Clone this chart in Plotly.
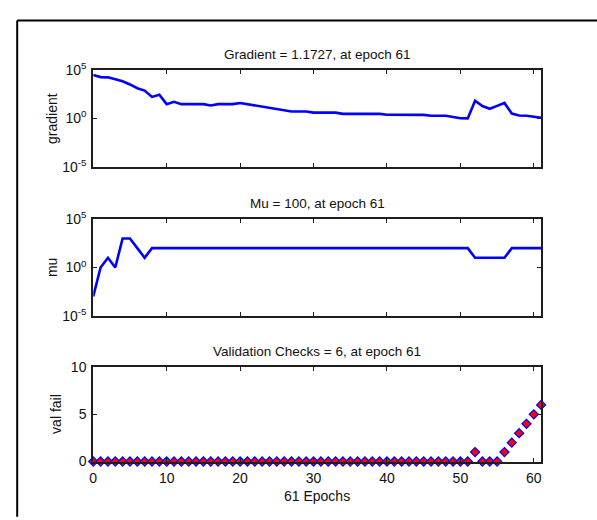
import plotly.graph_objects as go

# ---------------- data ----------------
epochs = list(range(62))

gradient = [32000, 19000, 18000, 10700, 7100, 3300, 1350, 760, 170, 290,
            30, 52, 30, 30, 30, 30, 22, 30, 30, 30,
            40, 29.5, 21, 16, 11.5, 8.9, 6.9, 5.2, 5.2, 5.2,
            4.0, 4.0, 4.0, 4.0, 2.95, 2.95, 2.95, 2.95, 2.95, 2.95,
            2.4, 2.4, 2.4, 2.4, 2.4, 2.3, 1.86, 1.86, 1.86, 1.41,
            1.05, 1.0, 68, 19, 10, 20, 40, 3.2, 2.0, 1.86,
            1.48, 1.1727]

mu = [0.001, 1, 10, 1, 1000, 1000, 100, 10] + [100] * 44 + [10] * 5 + [100] * 5

val_fail = [0] * 52 + [1, 0, 0, 0, 1, 2, 3, 4, 5, 6]

titles = ["Gradient = 1.1727, at epoch 61",
          "Mu = 100, at epoch 61",
          "Validation Checks = 6, at epoch 61"]
ylabels = ["gradient", "mu", "val fail"]
xlabel = "61 Epochs"
log_tickvals = [1e-5, 1, 1e5]
log_ticktext = ["10<sup>-5</sup>", "10<sup>0</sup>", "10<sup>5</sup>"]
lin_tickvals = [0, 5, 10]
x_tickvals = [0, 10, 20, 30, 40, 50, 60]

# ---------------- layout helpers ----------------
W, H = 597, 520
def px(x):
    return x / W
def py(y):
    return 1 - y / H

FONT = "Liberation Sans, Arial, Helvetica, sans-serif"
LINE_C = "#1e1e1e"

x_dom = [px(90), px(541.7)]
panels = [(62.3, 162.3), (216.7, 316.7), (370.0, 467.7)]

fig = go.Figure()
fig.add_trace(go.Scatter(x=epochs, y=gradient, mode="lines",
                         line=dict(color="#0000ff", width=2.6),
                         xaxis="x", yaxis="y", showlegend=False))
fig.add_trace(go.Scatter(x=epochs, y=mu, mode="lines",
                         line=dict(color="#0000ff", width=2.6),
                         xaxis="x2", yaxis="y2", showlegend=False))
fig.add_trace(go.Scatter(x=epochs, y=val_fail, mode="markers",
                         marker=dict(symbol="diamond", size=7, color="#ff0000",
                                     line=dict(color="#0000ff", width=1.2)),
                         cliponaxis=False,
                         xaxis="x3", yaxis="y3", showlegend=False))

common_axis = dict(showline=True, linecolor=LINE_C, linewidth=2, mirror="allticks",
                   ticks="inside", ticklen=4, tickwidth=1, tickcolor=LINE_C,
                   showgrid=False, zeroline=False,
                   tickfont=dict(family=FONT, size=14, color="#111"))

layout = dict(width=W, height=H, margin=dict(l=0, r=0, t=0, b=0),
              paper_bgcolor="white", plot_bgcolor="white",
              font=dict(family=FONT, size=13, color="#111"),
              showlegend=False)

for i, (top, bot) in enumerate(panels):
    sfx = "" if i == 0 else str(i + 1)
    xa = dict(common_axis, domain=x_dom, range=[0, 61], tickvals=x_tickvals,
              anchor="y" + sfx, showticklabels=(i == 2))
    if i == 2:
        xa["ticklabelstandoff"] = 3
    if i < 2:
        ya = dict(common_axis, domain=[py(bot), py(top)], type="log", range=[-5, 5],
                  tickvals=log_tickvals, ticktext=log_ticktext, anchor="x" + sfx)
    else:
        ya = dict(common_axis, domain=[py(bot), py(top)], range=[0, 10],
                  tickvals=lin_tickvals, anchor="x" + sfx)
    ya["ticklabelstandoff"] = 2
    layout["xaxis" + sfx] = xa
    layout["yaxis" + sfx] = ya

annotations = []
centers_x = (90 + 541.7) / 2
for i, (top, bot) in enumerate(panels):
    annotations.append(dict(text=titles[i], x=px(centers_x), y=py(top - 16.5),
                            xref="paper", yref="paper", showarrow=False,
                            xanchor="center", yanchor="middle",
                            font=dict(family=FONT, size=13.5, color="#111")))
    annotations.append(dict(text=ylabels[i], x=px(49 if i < 2 else 53),
                            y=py((top + bot) / 2),
                            xref="paper", yref="paper", showarrow=False,
                            textangle=-90, xanchor="center", yanchor="middle",
                            font=dict(family=FONT, size=14, color="#111")))
annotations.append(dict(text=xlabel, x=px(centers_x), y=py(503),
                        xref="paper", yref="paper", showarrow=False,
                        xanchor="center", yanchor="middle",
                        font=dict(family=FONT, size=14, color="#111")))
layout["annotations"] = annotations

# outer frame (top and left edges visible; extends past the right/bottom edges)
layout["shapes"] = [
    dict(type="line", xref="paper", yref="paper", x0=px(13.3), x1=px(W + 5),
         y0=py(10.8), y1=py(10.8), line=dict(color="black", width=2)),
    dict(type="line", xref="paper", yref="paper", x0=px(13.3), x1=px(13.3),
         y0=py(10.8), y1=py(H + 5), line=dict(color="black", width=2)),
]

fig.update_layout(**layout)
fig.write_html("out.html", config={"displayModeBar": False},
               post_script="document.body.style.margin='0';document.body.style.overflow='hidden';")
